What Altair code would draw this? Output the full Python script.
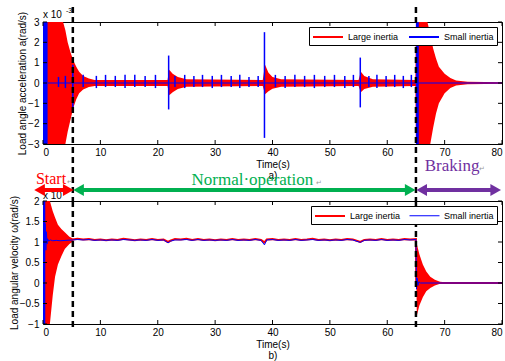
import altair as alt
import pandas as pd

SANS = "Liberation Sans"
SERIF = "Liberation Serif"

# ---------------- shared categories / ticks ----------------
series_names = ["Large inertia", "Small inertia"]
series_colors = ["#ff0000", "#0000ff"]

x_ticks = [0, 10, 20, 30, 40, 50, 60, 70, 80]
acc_ticks = [-3, -2, -1, 0, 1, 2, 3]
vel_ticks = [-1, -0.5, 0, 0.5, 1, 1.5, 2]

phase_names = ["Start", "Normal·operation", "Braking"]
phase_colors = ["#ff0000", "#00b050", "#7030a0"]
phase_switch = [5.2, 65.0]          # start -> normal, normal -> braking (s)

# ---------------- a) load angle acceleration (x10^-3) ----------------
# large inertia: oscillation envelope
acc_red_t = [0, 3.5, 3.9, 4.3, 4.8, 5.3, 5.8, 6.3, 7.0, 8.0, 9.0, 21.7, 22.0, 22.6, 23.5, 25.0,
             38.3, 38.7, 39.3, 40.0, 41.5, 55.0, 55.4, 56.0, 57.5, 64.9, 65.0, 67.0, 67.5, 68.0,
             68.5, 69.0, 70.0, 71.0, 72.0, 74.0, 80.0]
acc_red_hi = [3, 3, 2.6, 2.0, 1.5, 1.1, 0.8, 0.55, 0.35, 0.22, 0.15, 0.15, 0.65, 0.45, 0.3, 0.18,
              0.15, 0.9, 0.5, 0.3, 0.18, 0.15, 0.55, 0.35, 0.18, 0.15, 3, 3, 2.4, 1.7,
              1.2, 0.8, 0.45, 0.25, 0.12, 0.06, 0.04]
acc_red_lo = [-3, -3, -3, -2.4, -1.8, -1.2, -0.8, -0.5, -0.32, -0.2, -0.15, -0.15, -0.6, -0.45, -0.3, -0.18,
              -0.15, -0.55, -0.4, -0.28, -0.18, -0.15, -0.45, -0.3, -0.18, -0.15, -3, -3, -3, -2.2,
              -1.5, -1.0, -0.5, -0.25, -0.12, -0.06, -0.04]

# small inertia: saturated bursts
acc_burst_t0 = [0.0, 65.0]
acc_burst_t1 = [0.8, 65.5]

# small inertia: impulse spikes
acc_spike_t = [2.7, 3.9, 5.2, 7.0, 9.3, 10.9, 12.6, 14.3, 16.0, 17.8, 19.6, 21.9, 23.0, 24.7, 26.3,
               27.8, 29.5, 31.1, 32.8, 34.3, 35.9, 37.5, 38.6, 40.5, 42.2, 43.9, 45.6, 47.3, 49.1,
               50.8, 52.6, 54.1, 55.3, 56.8, 58.2, 59.8, 61.3, 62.8, 64.2]
acc_spike_hi = [0.3, 0.35, 0.9, 0.4, 0.35, 0.4, 0.35, 0.4, 0.4, 0.35, 0.4, 1.35, 0.35, 0.4, 0.35,
                0.4, 0.35, 0.4, 0.35, 0.4, 0.3, 0.35, 2.5, 0.4, 0.35, 0.4, 0.35, 0.4, 0.35,
                0.4, 0.35, 0.4, 1.25, 0.35, 0.4, 0.35, 0.4, 0.35, 0.4]
acc_spike_lo = [-0.2, -0.25, -1.3, -0.2, -0.25, -0.2, -0.2, -0.25, -0.2, -0.2, -0.25, -1.3, -0.2, -0.25, -0.2,
                -0.2, -0.25, -0.2, -0.2, -0.25, -0.2, -0.2, -2.7, -0.2, -0.25, -0.2, -0.2, -0.25, -0.2,
                -0.2, -0.25, -0.2, -1.2, -0.2, -0.25, -0.2, -0.2, -0.25, -0.2]

# mean traces
acc_line_t = [0, 80, 0.8, 80]
acc_line_v = [0, 0, 0, 0]
acc_line_s = ["Large inertia", "Large inertia", "Small inertia", "Small inertia"]

# ---------------- b) load angular velocity (rad/s) ----------------
vel_start_t = [0, 1.2, 1.7, 2.1, 2.6, 3.2, 3.8, 4.6, 5.3]
vel_start_hi = [2, 2, 1.75, 1.6, 1.42, 1.32, 1.24, 1.13, 1.08]
vel_start_lo = [-1, -1, -0.3, 0.15, 0.45, 0.65, 0.83, 0.95, 1.02]

vel_brake_t = [65.0, 65.15, 65.6, 66.2, 66.8, 67.5, 68.3, 69.2, 70.5, 80]
vel_brake_hi = [1.05, 0.95, 0.7, 0.45, 0.28, 0.15, 0.08, 0.03, 0.01, 0.005]
vel_brake_lo = [1.0, -0.8, -0.55, -0.35, -0.2, -0.12, -0.06, -0.02, -0.01, -0.005]

vel_burst_t0 = [0.0]
vel_burst_t1 = [0.4]

vel_red_t = [5.2, 6, 7, 8, 9, 10, 11, 12, 13, 14, 15, 16, 17, 18, 19, 20, 21, 21.8, 22.2, 23,
             24, 25, 26, 27, 28, 29, 30, 31, 32, 33, 34, 35, 36, 37, 38, 38.6, 39, 40, 41, 42,
             43, 44, 45, 46, 47, 48, 49, 50, 51, 52, 53, 54, 55.3, 56, 57, 58, 59, 60, 61, 62,
             63, 64, 65, 65.05, 80]
vel_red_v = [1.06, 1.08, 1.06, 1.07, 1.05, 1.06, 1.04, 1.06, 1.05, 1.08, 1.06, 1.04, 1.06, 1.05, 1.07, 1.05, 1.06, 1.0, 1.03, 1.07,
             1.06, 1.08, 1.05, 1.07, 1.05, 1.06, 1.04, 1.06, 1.05, 1.07, 1.05, 1.06, 1.05, 1.07, 1.05, 0.99, 1.06, 1.07, 1.05, 1.06,
             1.05, 1.07, 1.05, 1.06, 1.08, 1.05, 1.06, 1.04, 1.06, 1.05, 1.07, 1.06, 1.0, 1.05, 1.06, 1.05, 1.07, 1.05, 1.06, 1.05,
             1.07, 1.06, 1.07, 0.0, 0.0]

vel_blue_t = [0.4, 0.5, 0.6, 0.7, 0.8, 1.0, 1.3, 1.7, 2.3, 3, 4, 5.2, 6, 7, 8, 9, 10, 11, 12, 13,
              14, 15, 16, 17, 18, 19, 20, 21, 21.8, 22.2, 23, 24, 25, 26, 27, 28, 29, 30, 31, 32,
              33, 34, 35, 36, 37, 38, 38.6, 39, 40, 41, 42, 43, 44, 45, 46, 47, 48, 49, 50, 51,
              52, 53, 54, 55.3, 56, 57, 58, 59, 60, 61, 62, 63, 64, 65, 65.1, 65.2, 65.35, 65.5, 65.8, 80]
vel_blue_v = [1.45, 0.8, 1.25, 0.95, 1.08, 1.02, 1.05, 1.03, 1.04, 1.03, 1.04, 1.05, 1.06, 1.05, 1.06, 1.04, 1.05, 1.04, 1.05, 1.04,
              1.06, 1.05, 1.04, 1.05, 1.04, 1.06, 1.04, 1.05, 0.98, 1.02, 1.05, 1.05, 1.06, 1.04, 1.06, 1.04, 1.05, 1.04, 1.05, 1.04,
              1.06, 1.04, 1.05, 1.04, 1.06, 1.04, 0.93, 1.05, 1.06, 1.04, 1.05, 1.04, 1.06, 1.04, 1.05, 1.06, 1.04, 1.05, 1.04, 1.05,
              1.04, 1.06, 1.05, 0.99, 1.04, 1.05, 1.04, 1.06, 1.04, 1.05, 1.04, 1.06, 1.05, 1.06, -0.15, 0.12, -0.06, 0.03, 0.0, 0.0]

# ---------------- layout ----------------
W = 459
H1 = 122
H2 = 123
GAP = 57

xscale = alt.Scale(domain=[0, 80], nice=False, zero=False)


def x_axis(title):
    return alt.Axis(values=x_ticks, title=title, format="d", labelPadding=3, labelFlush=True,
                    titlePadding=2, titleLineHeight=11)


def y_axis(title, ticks, fmt):
    return alt.Axis(values=ticks, title=title, format=fmt, labelPadding=4, titlePadding=0)


# long horizontal line sample, left-anchored so the label clears it
LEGEND_STROKE = "M-1,0H4"


def legend():
    return alt.Legend(title=None, orient="top-right", direction="horizontal",
                      symbolType=LEGEND_STROKE, symbolSize=144, symbolStrokeWidth=2,
                      labelFont=SANS, labelFontSize=9, labelColor="black",
                      strokeColor="black", fillColor="white", padding=3, offset=5,
                      columnPadding=6, labelOffset=22, cornerRadius=0)


class Panel:
    """Shared x / y encodings so every layer of a panel merges into one axis pair."""

    def __init__(self, xaxis, yscale, yaxis):
        self.xaxis, self.yscale, self.yaxis = xaxis, yscale, yaxis

    def X(self, field):
        return alt.X(f"{field}:Q", scale=xscale, axis=self.xaxis)

    def Y(self, field):
        return alt.Y(f"{field}:Q", scale=self.yscale, axis=self.yaxis)


def frame_ticks(p, h, yticks):
    """Inward tick marks on all four sides of a panel."""
    xt = alt.Chart(pd.DataFrame({"t": x_ticks}))
    yt = alt.Chart(pd.DataFrame({"v": yticks}))
    style = dict(color="black", strokeWidth=1)
    return [
        xt.mark_rule(**style).encode(x=p.X("t"), y=alt.value(h), y2=alt.value(h - 4)),
        xt.mark_rule(**style).encode(x=p.X("t"), y=alt.value(0), y2=alt.value(4)),
        yt.mark_rule(**style).encode(y=p.Y("v"), x=alt.value(0), x2=alt.value(4)),
        yt.mark_rule(**style).encode(y=p.Y("v"), x=alt.value(W - 4), x2=alt.value(W)),
    ]


def switch_rules(p, y_top, y_bottom):
    return alt.Chart(pd.DataFrame({"t": phase_switch})).mark_rule(
        color="black", strokeWidth=2.5, strokeDash=[6, 4]
    ).encode(x=p.X("t"), y=alt.value(y_top), y2=alt.value(y_bottom))


# ---------------- panel a) ----------------
pa = Panel(x_axis(["Time(s)", "a)"]), alt.Scale(domain=[-3, 3], nice=False),
           y_axis("Load angle acceleration a(rad/s)", acc_ticks, "d"))

red_env_a = alt.Chart(pd.DataFrame({"t": acc_red_t, "hi": acc_red_hi, "lo": acc_red_lo})).mark_area(
    color="#ff0000", opacity=1, clip=True
).encode(x=pa.X("t"), y=pa.Y("hi"), y2="lo:Q")

lines_a = alt.Chart(pd.DataFrame({"t": acc_line_t, "v": acc_line_v, "series": acc_line_s})).mark_line(
    strokeWidth=1
).encode(
    x=pa.X("t"), y=pa.Y("v"),
    color=alt.Color("series:N", scale=alt.Scale(domain=series_names, range=series_colors),
                    legend=legend()),
    detail="series:N",
)

burst_a = alt.Chart(pd.DataFrame({"t0": acc_burst_t0, "t1": acc_burst_t1, "hi": [3, 3], "lo": [-3, -3]})).mark_rect(
    color="#0000ff", clip=True
).encode(x=pa.X("t0"), x2="t1:Q", y=pa.Y("hi"), y2="lo:Q")

spikes_a = alt.Chart(pd.DataFrame({"t": acc_spike_t, "hi": acc_spike_hi, "lo": acc_spike_lo})).mark_rule(
    color="#0000ff", strokeWidth=1.5
).encode(x=pa.X("t"), y=pa.Y("hi"), y2="lo:Q")

exp_text = alt.Chart(pd.DataFrame({"s": ["x 10"]})).mark_text(
    font=SANS, fontSize=10, align="left", baseline="alphabetic", color="black"
).encode(x=alt.value(0), y=alt.value(-4), text="s:N")
exp_sup = alt.Chart(pd.DataFrame({"s": ["-3"]})).mark_text(
    font=SANS, fontSize=7, align="left", baseline="alphabetic", color="black"
).encode(x=alt.value(23), y=alt.value(-9), text="s:N")

panel_a = alt.layer(
    red_env_a, lines_a, burst_a, spikes_a, *frame_ticks(pa, H1, acc_ticks),
    switch_rules(pa, -15, H1 + GAP), exp_text, exp_sup
).properties(width=W, height=H1)

# ---------------- panel b) ----------------
pb = Panel(x_axis(["Time(s)", "b)"]), alt.Scale(domain=[-1, 2], nice=False),
           y_axis("Load angular velocity ω(rad/s)", vel_ticks, ""))

env_df = pd.concat([
    pd.DataFrame({"t": vel_start_t, "hi": vel_start_hi, "lo": vel_start_lo, "seg": "start"}),
    pd.DataFrame({"t": vel_brake_t, "hi": vel_brake_hi, "lo": vel_brake_lo, "seg": "brake"}),
])
red_env_b = alt.Chart(env_df).mark_area(color="#ff0000", opacity=1, clip=True).encode(
    x=pb.X("t"), y=pb.Y("hi"), y2="lo:Q", detail="seg:N",
)

lines_df = pd.concat([
    pd.DataFrame({"t": vel_red_t, "v": vel_red_v, "series": "Large inertia"}),
    pd.DataFrame({"t": vel_blue_t, "v": vel_blue_v, "series": "Small inertia"}),
])
lines_b = alt.Chart(lines_df).mark_line(clip=True).encode(
    x=pb.X("t"), y=pb.Y("v"),
    color=alt.Color("series:N", scale=alt.Scale(domain=series_names, range=series_colors),
                    legend=legend()),
    strokeWidth=alt.StrokeWidth("series:N", scale=alt.Scale(domain=series_names, range=[2, 1]),
                                legend=None),
)

burst_b = alt.Chart(pd.DataFrame({"t0": vel_burst_t0, "t1": vel_burst_t1, "hi": [2], "lo": [-1]})).mark_rect(
    color="#0000ff", clip=True
).encode(x=pb.X("t0"), x2="t1:Q", y=pb.Y("hi"), y2="lo:Q")

# phase annotations above panel b)
arrow_df = pd.DataFrame({
    "phase": phase_names,
    "col": phase_colors,
    "from": [-0.6, 6.2, 66.0],
    "to": [4.4, 64.0, 78.9],
})
arrow_y = -11
arrow_shaft = alt.Chart(arrow_df).mark_rule(strokeWidth=4).encode(
    x=pb.X("from"), x2="to:Q", y=alt.value(arrow_y),
    color=alt.Color("col:N", scale=None),
)
head_l = alt.Chart(arrow_df).mark_point(shape="triangle-left", filled=True, size=150, opacity=1).encode(
    x=pb.X("from"), y=alt.value(arrow_y), color=alt.Color("col:N", scale=None),
)
head_r = alt.Chart(arrow_df).mark_point(shape="triangle-right", filled=True, size=150, opacity=1).encode(
    x=pb.X("to"), y=alt.value(arrow_y), color=alt.Color("col:N", scale=None),
)

label_df = pd.DataFrame({
    "phase": phase_names,
    "col": phase_colors,
    "x": [1.4, 36.5, 71.3],
    "y": [-17, -16, -30],
    "size": [16, 17, 17],
    "mark_x": [4.2, 47.6, 76.0],
})
labels = alt.Chart(label_df).mark_text(font=SERIF, baseline="alphabetic", align="center").encode(
    x=pb.X("x"),
    y=alt.Y("y:Q", scale=None, axis=None),
    text="phase:N",
    color=alt.Color("col:N", scale=None),
    size=alt.Size("size:Q", scale=None, legend=None),
)
para_marks = alt.Chart(label_df).mark_text(
    font="DejaVu Sans", fontSize=7, color="#9a9a9a", align="left", baseline="alphabetic"
).encode(
    x=pb.X("mark_x"),
    y=alt.Y("y:Q", scale=None, axis=None),
    text=alt.value("↵"),
)

exp_text_b = alt.Chart(pd.DataFrame({"s": ["x 10"]})).mark_text(
    font=SANS, fontSize=10, align="left", baseline="alphabetic", color="black"
).encode(x=alt.value(0), y=alt.value(-2), text="s:N")

panel_b = alt.layer(
    red_env_b, lines_b, burst_b, *frame_ticks(pb, H2, vel_ticks),
    exp_text_b, arrow_shaft, head_l, head_r, labels, para_marks,
    switch_rules(pb, 0, H2 + 4),
).properties(width=W, height=H2)

chart = alt.vconcat(panel_a, panel_b, spacing=GAP, bounds="flush").resolve_scale(
    color="independent", strokeWidth="independent"
).resolve_legend(color="independent").properties(
    padding={"left": 8, "top": 5, "right": 0, "bottom": 0}, background="white"
).configure_view(
    stroke="black", strokeWidth=1
).configure_axis(
    labelFont=SANS, labelFontSize=10, labelColor="black",
    titleFont=SANS, titleFontSize=10, titleFontWeight="normal", titleColor="black",
    domain=False, ticks=False, grid=False,
)

chart.save("out.html", embed_options={"renderer": "svg", "actions": False})
